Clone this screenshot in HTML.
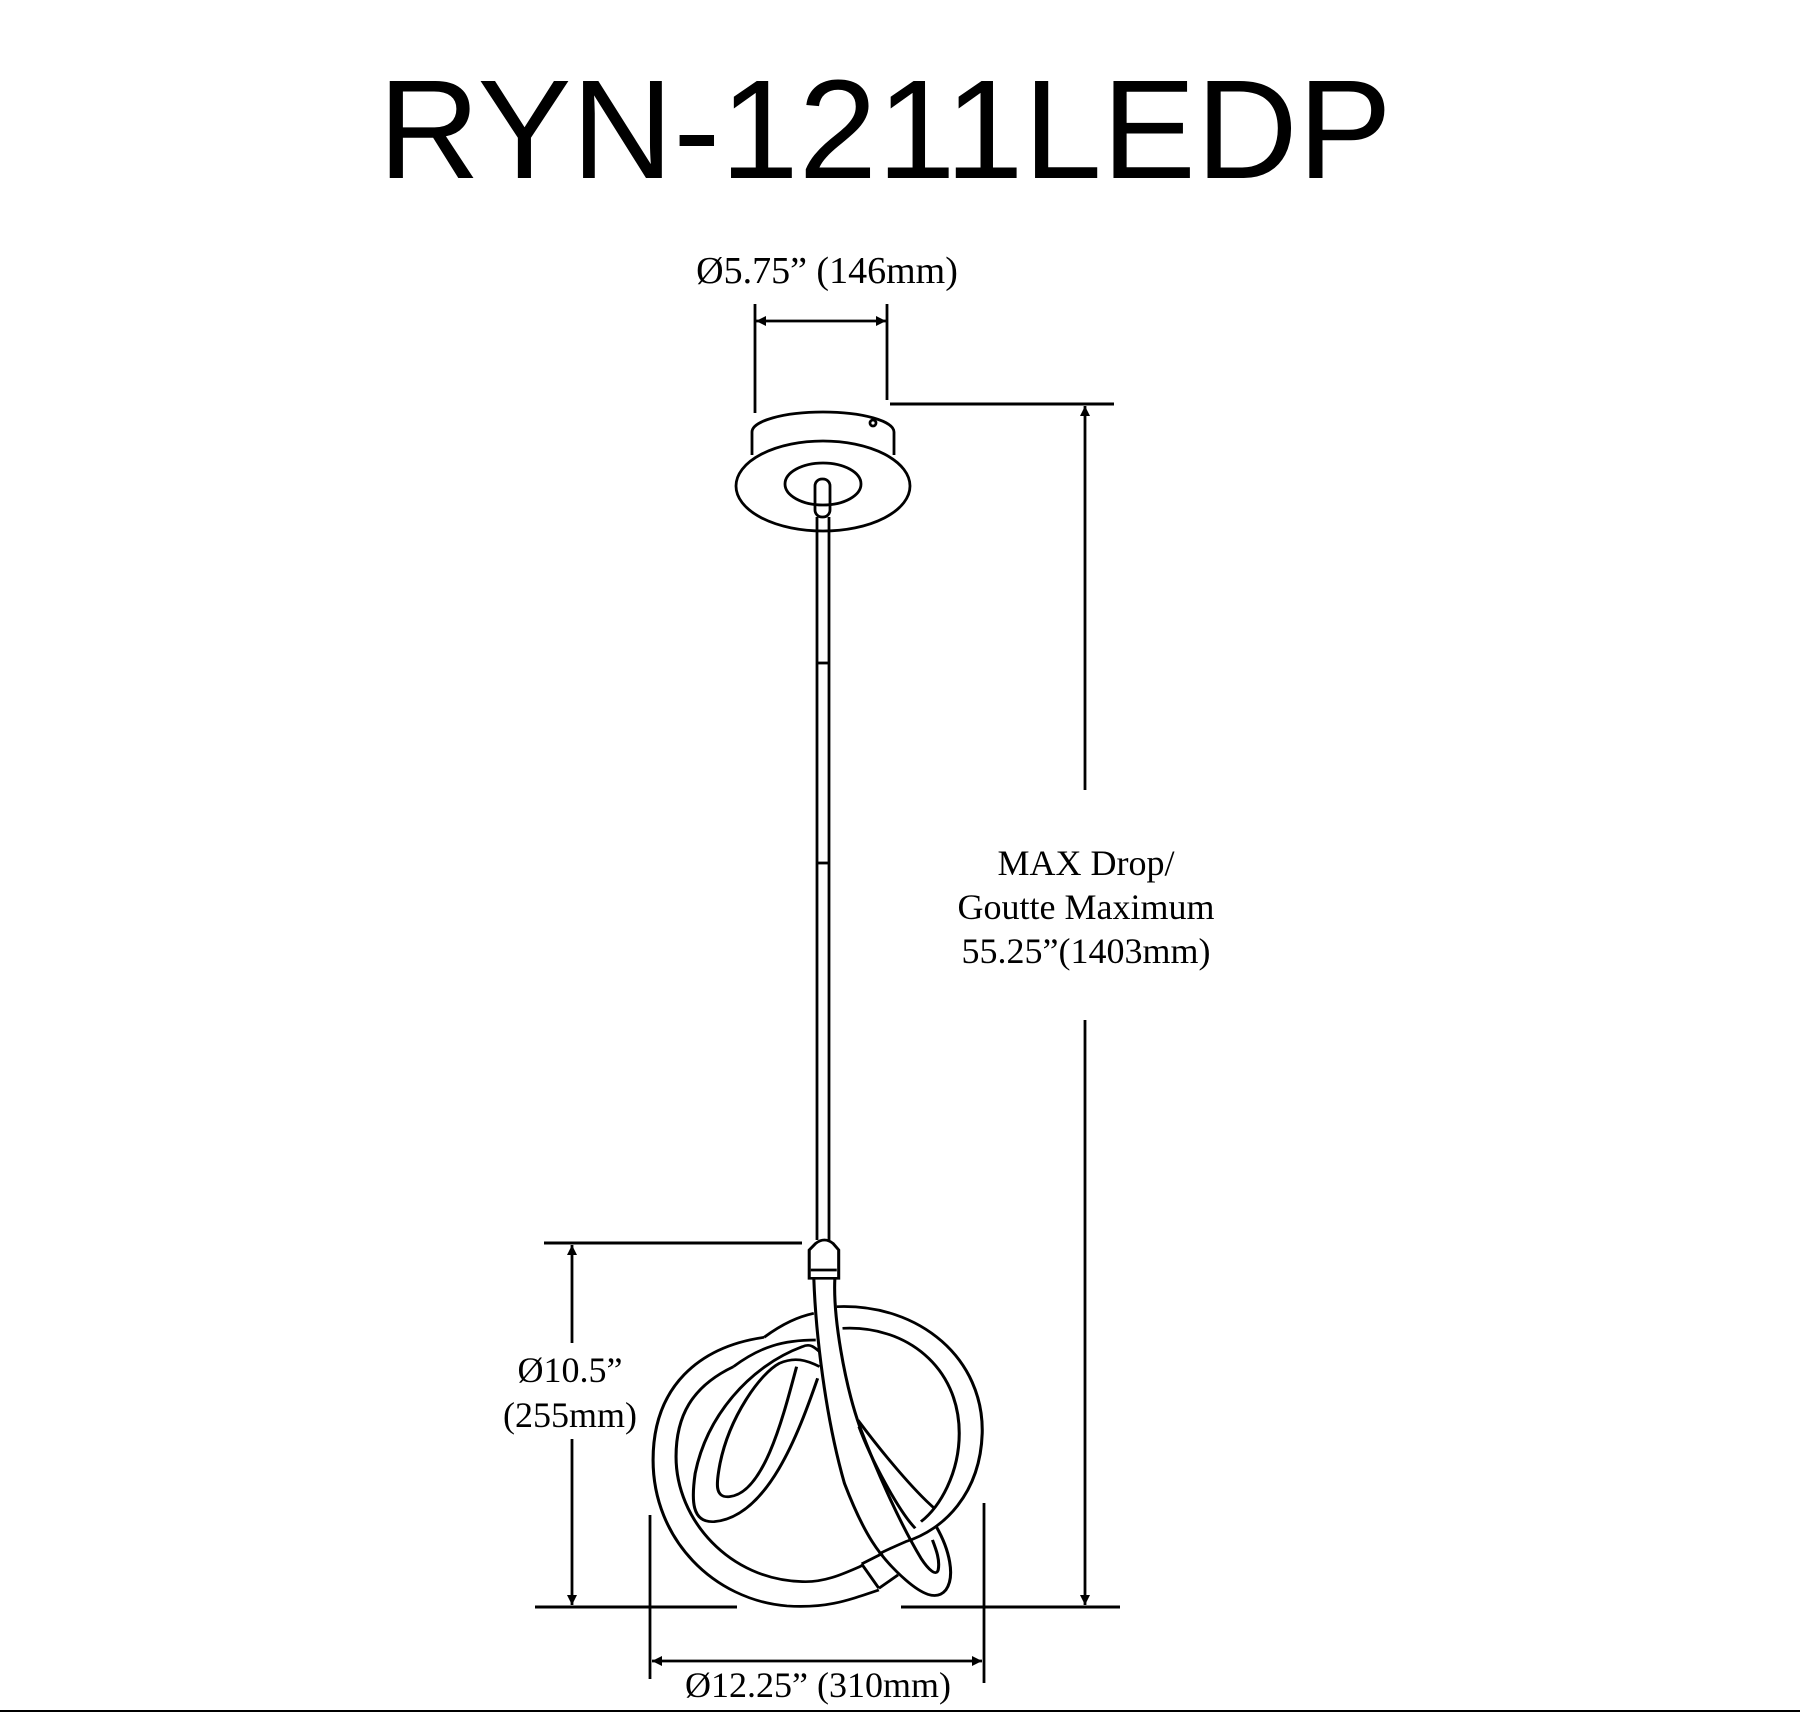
<!DOCTYPE html>
<html><head><meta charset="utf-8"><style>
html,body{margin:0;padding:0;background:#fff}
svg{display:block}
text{font-family:"Liberation Serif",serif;fill:#000}
</style></head><body>
<svg width="1800" height="1713" viewBox="0 0 1800 1713" xmlns="http://www.w3.org/2000/svg">
<defs>
<marker id="a" viewBox="0 0 10 10" refX="10" refY="5" markerWidth="26" markerHeight="10" markerUnits="userSpaceOnUse" orient="auto-start-reverse"><path d="M0,0 L10,5 L0,10 z" fill="#000"/></marker>
</defs>
<text x="885" y="178" font-size="141" text-anchor="middle" style="font-family:'Liberation Sans',sans-serif">RYN-1211LEDP</text>

<g stroke="#000" stroke-width="2.8" fill="none">
<!-- top dim -->
<line x1="755" y1="304" x2="755" y2="413"/>
<line x1="887" y1="304" x2="887" y2="400"/>
<line x1="756" y1="321" x2="886" y2="321" marker-start="url(#a)" marker-end="url(#a)" />
<!-- max drop -->
<line x1="890" y1="404" x2="1114" y2="404" stroke-width="3"/>
<line x1="1085" y1="790" x2="1085" y2="406" marker-end="url(#a)"/>
<line x1="1085" y1="1020" x2="1085" y2="1605" marker-end="url(#a)"/>
<line x1="901" y1="1607" x2="1120" y2="1607" stroke-width="3"/>
<!-- left height -->
<line x1="544" y1="1243" x2="802" y2="1243" stroke-width="3"/>
<line x1="572" y1="1343" x2="572" y2="1245" marker-end="url(#a)"/>
<line x1="572" y1="1439" x2="572" y2="1605" marker-end="url(#a)"/>
<line x1="535" y1="1607" x2="737" y2="1607" stroke-width="3"/>
<!-- width -->
<line x1="650" y1="1515" x2="650" y2="1679"/>
<line x1="984" y1="1503" x2="984" y2="1683"/>
<line x1="652" y1="1661" x2="982" y2="1661" marker-start="url(#a)" marker-end="url(#a)"/>
<line x1="0" y1="1711" x2="1800" y2="1711" stroke-width="2"/>

<!-- canopy -->
<path d="M752,455 L752,432 A71,20 0 0 1 894,432 L894,455"/>
<ellipse cx="823" cy="486" rx="87" ry="45" fill="#fff"/>
<ellipse cx="823" cy="484" rx="38" ry="21"/>
<circle cx="873" cy="423" r="3"/>
<rect x="815" y="479" width="15" height="38" rx="7"/>
<!-- stem -->
<line x1="817" y1="517" x2="817" y2="1240"/>
<line x1="829" y1="517" x2="829" y2="1240"/>
<line x1="817" y1="663" x2="829" y2="663"/>
<line x1="817" y1="863" x2="829" y2="863"/>
</g>

<g transform="translate(500,1200) scale(0.3827,0.3333)" stroke="#000" stroke-width="8" fill="none">
<path d="M825,130 Q848,110 870,130 L885,150 L885,235 L808,235 L808,150 Z"/>
<line x1="812" y1="210" x2="880" y2="210"/>
<path d="M690,412 C520,440 400,560 400,780 C400,1020 560,1200 750,1218 C850,1225 900,1205 990,1170"/>
<path d="M610,500 C500,560 460,650 460,770 C460,960 600,1140 790,1145 C850,1148 900,1120 950,1095"/>
<path d="M690,412 C740,370 780,350 820,340"/>
<path d="M610,500 C680,440 740,420 825,420"/>
<path d="M880,320 C1100,310 1265,480 1260,700 C1255,880 1160,990 1060,1025 C1030,1040 1010,1050 990,1062"/>
<path d="M895,385 C1060,375 1200,500 1200,700 C1200,820 1150,920 1100,965"/>
<path d="M945,1092 L990,1165 M945,1092 L1000,1060 M990,1165 L1040,1125"/>
<path d="M775,500 C740,650 690,880 600,890 C560,895 565,850 575,790 C600,650 680,520 730,490 C770,470 800,480 835,500"/>
<path d="M830,535 C780,700 700,950 560,965 C500,970 500,900 510,820 C540,650 650,500 790,440 C810,430 820,440 835,455"/>
<path d="M820,235 C825,400 850,650 900,850 C950,1000 990,1070 1060,1140 C1100,1180 1140,1205 1165,1170 C1190,1130 1175,1050 1140,980"/>
<path d="M875,235 C870,350 900,550 940,680 C980,800 1040,960 1100,1075 C1120,1110 1140,1130 1145,1110 C1150,1080 1140,1050 1130,1020"/>
<path d="M935,660 C1000,760 1080,870 1135,925"/>
<path d="M938,680 C970,780 1040,930 1085,985"/>
</g>

<g font-size="36" text-anchor="middle">
<text x="827" y="283" font-size="38">Ø5.75” (146mm)</text>
<text x="1086" y="875">MAX Drop/</text>
<text x="1086" y="919">Goutte Maximum</text>
<text x="1086" y="963">55.25”(1403mm)</text>
<text x="570" y="1382">Ø10.5”</text>
<text x="570" y="1427">(255mm)</text>
<text x="818" y="1697">Ø12.25” (310mm)</text>
</g>
</svg>
</body></html>
